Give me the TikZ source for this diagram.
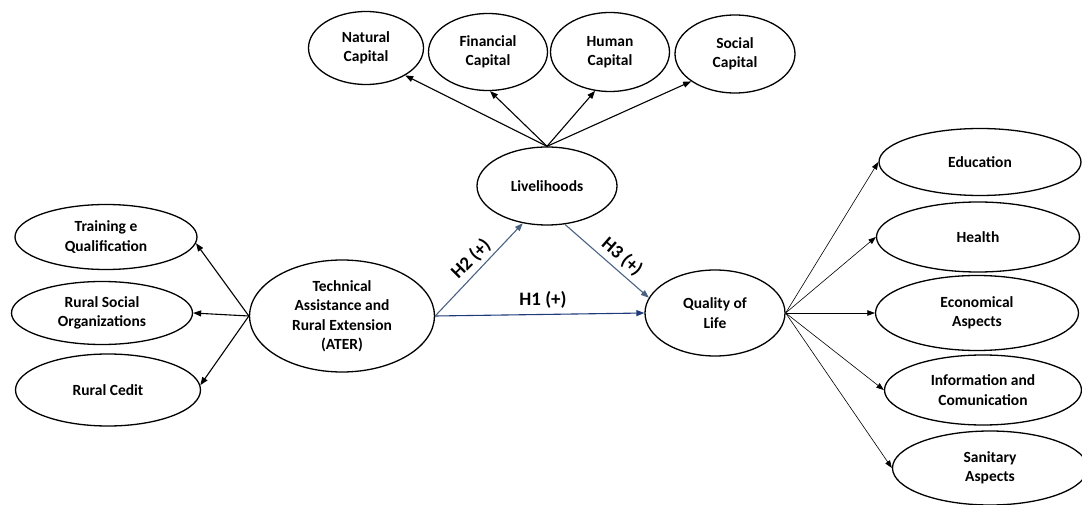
\documentclass[tikz,border=0pt]{standalone}
\usepackage{fontspec}
\setmainfont{Carlito}
\usetikzlibrary{shapes.geometric,arrows.meta}
\definecolor{hgray}{HTML}{4A6282}
\definecolor{hnavy}{HTML}{1F3B7A}
\tikzset{
  ell/.style={ellipse, draw=black, line width=1.3pt, inner sep=0pt, align=center,
    font=\fontsize{15.5}{19.5}\selectfont\bfseries},
  arr/.style={line width=1.1pt, -{Triangle[length=8pt,width=6pt]}},
  thinarr/.style={line width=0.6pt, -{Triangle[length=7.5pt,width=5.5pt]}},
  harr/.style={line width=1.1pt, -{Triangle[length=8pt,width=6pt]}},
  hlab/.style={font=\fontsize{19}{21}\selectfont\bfseries, inner sep=0pt}
}
\begin{document}
\begin{tikzpicture}[x=1pt,y=-1pt]
\useasboundingbox (0,0) rectangle (1082,505);
% top capitals
\node[ell, minimum width=115pt, minimum height=73pt] (nat) at (366,48) {Natural\\Capital};
\node[ell, minimum width=119pt, minimum height=77pt] (fin) at (488,52) {Financial\\Capital};
\node[ell, minimum width=119pt, minimum height=79pt] (hum) at (610,52) {Human\\Capital};
\node[ell, minimum width=120pt, minimum height=78pt] (soc) at (735,54) {Social\\Capital};
% livelihoods
\node[ell, minimum width=140pt, minimum height=78pt] (liv) at (547,186) {Livelihoods};
% left
\node[ell, minimum width=182pt, minimum height=65pt] (trn) at (106,237) {Training e\\Qualification};
\node[ell, minimum width=181pt, minimum height=63pt] (rso) at (102,313) {Rural Social\\Organizations};
\node[ell, minimum width=185pt, minimum height=72pt] (rc) at (108,390) {Rural Cedit};
\node[ell, minimum width=185pt, minimum height=112pt] (ater) at (342,316) {Technical\\Assistance and\\Rural Extension\\(ATER)};
% quality of life
\node[ell, minimum width=140pt, minimum height=86pt] (qol) at (715,313) {Quality of\\Life};
% right
\node[ell, minimum width=202pt, minimum height=67pt] (edu) at (980,162) {Education};
\node[ell, minimum width=203pt, minimum height=70pt] (hea) at (978,237) {Health};
\node[ell, minimum width=203pt, minimum height=75pt] (eco) at (977,313) {Economical\\Aspects};
\node[ell, minimum width=197pt, minimum height=70pt] (inf) at (983,390) {Information and\\Comunication};
\node[ell, minimum width=195pt, minimum height=74pt] (san) at (990,468) {Sanitary\\Aspects};

% livelihoods -> capitals
\draw[arr] (liv.north) -- (nat.-35);
\draw[arr] (liv.north) -- (fin.-87);
\draw[arr] (liv.north) -- (hum.-111);
\draw[arr] (liv.north) -- (soc.-148);
% ATER -> left
\draw[arr] (ater.west) -- (trn.-4);
\draw[arr] (ater.west) -- (rso.east);
\draw[arr] (ater.west) -- (rc.3);
% hypotheses
\draw[harr, hnavy] (ater.east) -- (qol.west);
\draw[harr, hgray] (ater.east) -- (liv.-123);
\draw[harr, hgray] (liv.-65) -- (qol.167);
\node[hlab, rotate=45] (h2) at (471,259) {H2 (+)};
\node[hlab, rotate=-41] (h3) at (622,257) {H3 (+)};
\node[hlab] (h1) at (543,300) {H1 (+)};
% QoL -> right
\draw[thinarr] (qol.east) -- (edu.west);
\draw[thinarr] (qol.east) -- (hea.west);
\draw[thinarr] (qol.east) -- (eco.west);
\draw[thinarr] (qol.east) -- (inf.west);
\draw[thinarr] (qol.east) -- (san.west);
\end{tikzpicture}
\end{document}
